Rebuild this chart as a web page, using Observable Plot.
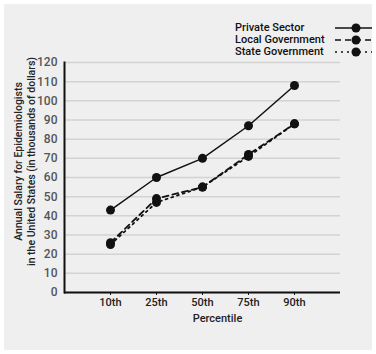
<!DOCTYPE html>
<html><head><meta charset="utf-8">
<script src="https://cdn.jsdelivr.net/npm/d3@7"></script>
<script src="https://cdn.jsdelivr.net/npm/@observablehq/plot@0.6"></script>
<style>
body{margin:0;background:#fff;width:376px;height:354px;position:relative;overflow:hidden;font-family:Roboto,sans-serif;}
#card{position:absolute;left:4px;top:4px;width:368px;height:346px;background:#efefef;overflow:hidden;}
#chart{position:absolute;left:0;top:0;}
#legend{position:absolute;left:231px;top:18px;width:140px;}
.item{position:relative;height:12px;line-height:12px;font-size:11px;font-weight:500;color:#111;white-space:nowrap;}
.item svg{position:absolute;left:100px;top:0;}
</style></head>
<body>
<div id="card"><div id="legend"></div></div>
<div id="chart"></div>
<script>
const percentiles = ["10th", "25th", "50th", "75th", "90th"];
const privateSector = [43, 60, 70, 87, 108];
const localGovernment = [26, 49, 55, 72, 88];
const stateGovernment = [25, 47, 55, 71, 88];
const seriesNames = ["Private Sector", "Local Government", "State Government"];
const seriesDash = ["none", "6,4", "2,4"];
const yTicks = [0, 10, 20, 30, 40, 50, 60, 70, 80, 90, 100, 110, 120];
const yTitle = "Annual Salary for Epidemiologists\nin the United States (in thousands of dollars)";
const xTitle = "Percentile";

const seriesValues = [privateSector, localGovernment, stateGovernment];
const rows = [];
seriesNames.forEach((s, i) => percentiles.forEach((p, j) => rows.push({series: s, percentile: p, value: seriesValues[i][j]})));

const font = "Roboto, sans-serif";
const chart = Plot.plot({
  width: 376, height: 354,
  marginLeft: 64, marginRight: 36, marginTop: 62, marginBottom: 62,
  style: {background: "transparent", fontFamily: font, fontSize: "11px"},
  x: {type: "point", domain: percentiles, padding: 1, label: null},
  y: {domain: [0, 120], label: null},
  marks: [
    Plot.gridY(yTicks, {stroke: "#d3d3d3", strokeOpacity: 1, strokeWidth: 1.5}),
    Plot.axisY(yTicks, {tickSize: 0, tickPadding: 7, fill: "#555", fontWeight: 500, fontSize: 12, label: null}),
    Plot.axisX({tickSize: 3, tickPadding: 3, fill: "#222", fontWeight: 500, fontSize: 11, label: null, stroke: "#111"}),
    Plot.frame({anchor: "left", stroke: "#111", strokeWidth: 2}),
    Plot.ruleY([0], {stroke: "#111", strokeWidth: 2}),
    ...seriesNames.map((s, i) => Plot.line(rows.filter(d => d.series === s), {x: "percentile", y: "value", stroke: "#111", strokeWidth: i === 0 ? 1.5 : 1.8, strokeDasharray: seriesDash[i]})),
    Plot.dot(rows, {x: "percentile", y: "value", r: 4.5, fill: "#111"}),
    Plot.text([yTitle], {frameAnchor: "left", textAnchor: "middle", lineAnchor: "middle", rotate: -90, dx: -40, dy: -16, lineHeight: 1.25, fontSize: 10.5, fontWeight: 500, fill: "#222", text: d => d}),
    Plot.text([xTitle], {frameAnchor: "bottom", textAnchor: "middle", dx: 15, dy: 29, fontSize: 11, fontWeight: 500, fill: "#222", text: d => d})
  ]
});
document.getElementById("chart").appendChild(chart);

const legend = document.getElementById("legend");
seriesNames.forEach((s, i) => {
  const div = document.createElement("div");
  div.className = "item";
  div.textContent = s;
  const svg = d3.create("svg").attr("width", 40).attr("height", 12);
  svg.append("line").attr("x1", 0).attr("x2", 40).attr("y1", 6).attr("y2", 6)
    .attr("stroke", "#111").attr("stroke-width", 1.6).attr("stroke-dasharray", seriesDash[i]);
  svg.append("circle").attr("cx", 21).attr("cy", 6).attr("r", 4.5).attr("fill", "#111");
  div.appendChild(svg.node());
  legend.appendChild(div);
});
</script>
</body></html>
